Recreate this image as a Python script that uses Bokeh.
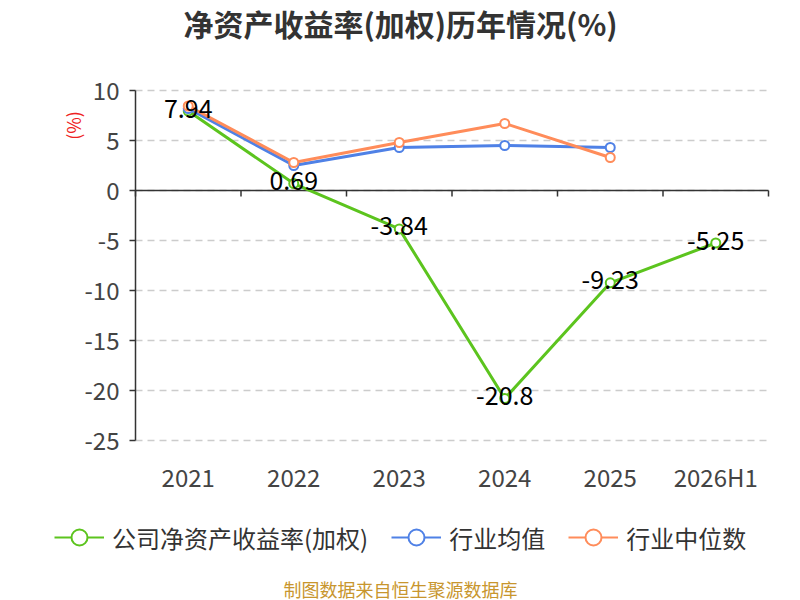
import math
from bokeh.plotting import figure
from bokeh.models import (ColumnDataSource, FixedTicker, LabelSet, Label,
                          Legend, LegendItem, Range1d)
from bokeh.core.properties import value
from bokeh.embed import file_html
from bokeh.resources import INLINE

categories = ["2021", "2022", "2023", "2024", "2025", "2026H1"]
company = [7.94, 0.69, -3.84, -20.8, -9.23, -5.25]
company_labels = ["7.94", "0.69", "-3.84", "-20.8", "-9.23", "-5.25"]
industry_avg = [8.2, 2.5, 4.3, 4.5, 4.3]
industry_median = [8.45, 2.8, 4.8, 6.7, 3.3]
y_ticks = [-25, -20, -15, -10, -5, 0, 5, 10]
series_names = ["公司净资产收益率(加权)", "行业均值", "行业中位数"]

GREEN = "#5cc41e"
BLUE = "#4f81e6"
ORANGE = "#ff8c5a"
FONT = "Noto Sans CJK SC"

# canvas / plot-area geometry (pixels)
W, H = 800, 600
PL, PR, PT, PB = 135, 768, 90, 440

n = len(categories)
ymin, ymax = min(y_ticks), max(y_ticks)
xpx = (PR - PL) / n                       # pixels per category
ypx = (PB - PT) / (ymax - ymin)           # pixels per unit
x_start = -0.5 - PL / xpx
x_end = n - 0.5 + (W - PR) / xpx
y_end = ymax + PT / ypx
y_start = ymin - (H - PB) / ypx

p = figure(width=W, height=H, output_backend="svg", toolbar_location=None,
           x_range=Range1d(x_start, x_end), y_range=Range1d(y_start, y_end),
           min_border=0, min_border_left=0, min_border_right=0,
           min_border_top=0, min_border_bottom=0)
p.outline_line_color = None
p.background_fill_color = "white"
p.border_fill_color = "white"
p.xgrid.visible = False
p.ygrid.visible = False

# x axis: category labels only, placed under the plot area
xa = p.xaxis[0]
xa.fixed_location = ymin
xa.ticker = FixedTicker(ticks=list(range(n)))
xa.major_label_overrides = {i: c for i, c in enumerate(categories)}
xa.axis_line_color = None
xa.major_tick_line_color = None
xa.minor_tick_line_color = None
xa.major_label_text_font = FONT
xa.major_label_text_font_size = "24px"
xa.major_label_text_color = "#444444"
xa.major_label_standoff = 12

# y axis at the left edge of the plot area
ya = p.yaxis[0]
ya.fixed_location = -0.5
ya.bounds = (ymin, ymax)
ya.ticker = FixedTicker(ticks=y_ticks)
ya.major_label_overrides = {t: str(t) for t in y_ticks}
ya.axis_line_color = "#333333"
ya.axis_line_width = 1.5
ya.major_tick_line_color = "#333333"
ya.major_tick_line_width = 1.5
ya.major_tick_out = 6
ya.major_tick_in = 0
ya.minor_tick_line_color = None
ya.major_label_text_font = FONT
ya.major_label_text_font_size = "24px"
ya.major_label_text_color = "#444444"
ya.major_label_standoff = 10

# dashed horizontal grid lines across the category span
p.segment(x0=[-0.5] * len(y_ticks), x1=[n - 0.5] * len(y_ticks), y0=y_ticks, y1=y_ticks,
          line_color="#cccccc", line_width=1.5, line_dash="7 5")

# zero axis line with category-boundary ticks
p.segment(x0=[-0.5], x1=[n - 0.5], y0=[0], y1=[0], line_color="#333333", line_width=1.5)
bx = [i - 0.5 for i in range(n + 1)]
p.segment(x0=bx, x1=bx, y0=[0] * len(bx), y1=[-6 / ypx] * len(bx),
          line_color="#333333", line_width=1.5)

xs = list(range(n))
src_c = ColumnDataSource(dict(x=xs, y=company, t=company_labels))
src_a = ColumnDataSource(dict(x=xs[:len(industry_avg)], y=industry_avg))
src_m = ColumnDataSource(dict(x=xs[:len(industry_median)], y=industry_median))

items = []
for src, col, name in [(src_c, GREEN, series_names[0]), (src_a, BLUE, series_names[1]),
                       (src_m, ORANGE, series_names[2])]:
    p.line("x", "y", source=src, line_color=col, line_width=3)
    p.scatter("x", "y", source=src, size=9, marker="circle",
              fill_color="white", line_color=col, line_width=2)
    # hidden renderers used only for the legend symbols
    lr = p.line("x", "y", source=src, line_color=col, line_width=2, visible=False)
    sr = p.scatter("x", "y", source=src, size=16, marker="circle",
                   fill_color="white", line_color=col, line_width=2, visible=False)
    items.append(LegendItem(label=name, renderers=[lr, sr]))

p.add_layout(LabelSet(x="x", y="y", text="t", source=src_c, text_align="center",
                      text_baseline="middle", y_offset=3, text_color="black",
                      text_font=value(FONT), text_font_size="25px"))

legend = Legend(items=items, orientation="horizontal", location=(54, H - 537 - 20),
                label_text_font=FONT, label_text_font_size="24px",
                label_text_color="#333333", glyph_width=50, glyph_height=40,
                label_height=40, label_standoff=8, spacing=23, padding=0,
                margin=0, border_line_color=None, background_fill_alpha=0,
                inactive_fill_alpha=0)
p.add_layout(legend, "center")

# title
p.add_layout(Label(x=400, y=H - 22, x_units="screen", y_units="screen",
                   text="净资产收益率(加权)历年情况(%)", text_align="center",
                   text_baseline="middle", text_font=FONT, text_font_size="30px",
                   text_font_style="bold", text_color="#333333"))
# unit label
p.add_layout(Label(x=72, y=H - 125, x_units="screen", y_units="screen",
                   text="(%)", angle=math.pi / 2, text_align="center",
                   text_baseline="middle", text_font=FONT, text_font_size="18px",
                   text_color="#ee2222"))
# source note
p.add_layout(Label(x=400, y=H - 588, x_units="screen", y_units="screen",
                   text="制图数据来自恒生聚源数据库", text_align="center",
                   text_baseline="middle", text_font=FONT, text_font_size="18px",
                   text_color="#c8962e"))

open("out.html", "w").write(file_html(p, INLINE))
